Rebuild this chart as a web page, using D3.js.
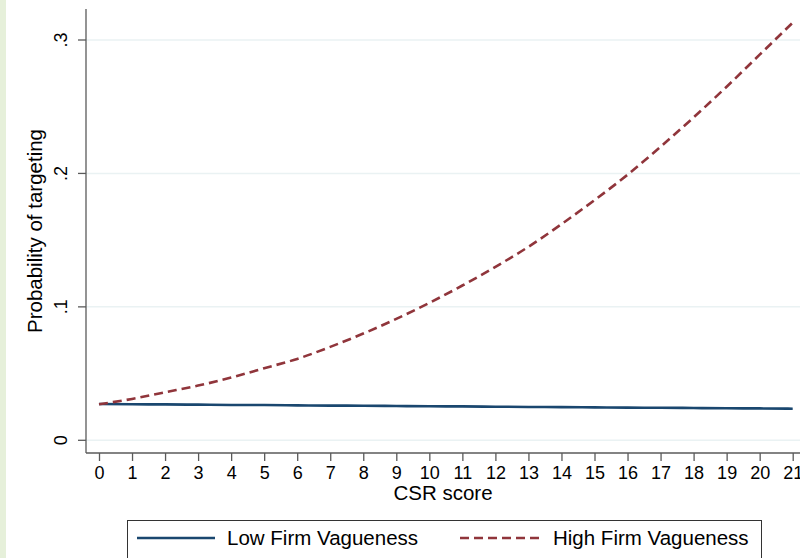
<!DOCTYPE html>
<html lang="en">
  <head>
    <meta charset="UTF-8" />
    <title>Probability of targeting by CSR score</title>
    <script src="https://cdn.jsdelivr.net/npm/d3@7"></script>
    <style>
      body { margin: 0; background: #fff; }
      svg { display: block; font-family: "Liberation Sans", Arial, sans-serif; }
    </style>
  </head>
  <body>
    <div id="chart"></div>
    <script>
      // data
      const csrScore = [0, 1, 2, 3, 4, 5, 6, 7, 8, 9, 10, 11, 12, 13, 14, 15, 16, 17, 18, 19, 20, 21];
      const lowVague = [0.0272, 0.0270, 0.0269, 0.0267, 0.0265, 0.0264, 0.0262, 0.0260, 0.0259, 0.0257, 0.0255,
        0.0254, 0.0252, 0.0250, 0.0249, 0.0247, 0.0245, 0.0244, 0.0242, 0.0240, 0.0239, 0.0237];
      const highVague = [0.027, 0.031, 0.036, 0.041, 0.047, 0.054, 0.061, 0.070, 0.080, 0.091, 0.103,
        0.116, 0.130, 0.145, 0.162, 0.180, 0.199, 0.220, 0.242, 0.265, 0.289, 0.313];
      const yTicks = [0, 0.1, 0.2, 0.3];
      const yTickLabels = ["0", ".1", ".2", ".3"];
      const seriesNames = ["Low Firm Vagueness", "High Firm Vagueness"];

      const width = 800;
      const height = 558;
      const plot = { left: 86, right: 800, top: 9, bottom: 453 };
      const axisColor = "#5a5a5a";
      const blue = "#1a476f";
      const red = "#90353b";
      const titleSize = 20.5;

      const svg = d3.select("#chart")
        .append("svg")
        .attr("width", width)
        .attr("height", height);

      // green strip at the left edge
      svg.append("rect")
        .attr("x", 0).attr("y", 0)
        .attr("width", 6).attr("height", height)
        .attr("fill", "#e6f0da");

      const x = d3.scaleLinear().domain([0, 21]).range([99, 792.7]);
      const y = d3.scaleLinear().domain([0, 0.3]).range([440.3, 40]);

      // grid lines
      svg.append("g")
        .selectAll("line")
        .data(yTicks)
        .join("line")
        .attr("x1", plot.left).attr("x2", plot.right)
        .attr("y1", d => y(d)).attr("y2", d => y(d))
        .attr("stroke", "#eaf2f3")
        .attr("stroke-width", 1.5);

      // x axis
      const xAxis = svg.append("g")
        .attr("transform", `translate(0,${plot.bottom})`)
        .call(d3.axisBottom(x).tickValues(csrScore).tickFormat(d3.format("d")).tickSize(8).tickPadding(5).tickSizeOuter(0));
      xAxis.select(".domain").attr("d", `M${plot.left},0H${plot.right}`);
      xAxis.selectAll("path, line").attr("stroke", axisColor).attr("stroke-width", 1.3);
      xAxis.selectAll("text").attr("font-size", 18).attr("fill", "#000").attr("font-family", null);

      // y axis, labels turned like the original
      const yAxis = svg.append("g")
        .attr("transform", `translate(${plot.left},0)`)
        .call(d3.axisLeft(y).tickValues(yTicks).tickFormat((d, i) => yTickLabels[i]).tickSize(8).tickSizeOuter(0));
      yAxis.select(".domain").attr("d", `M0,${plot.top}V${plot.bottom}`);
      yAxis.selectAll("path, line").attr("stroke", axisColor).attr("stroke-width", 1.3);
      yAxis.selectAll("text")
        .attr("font-size", 18).attr("fill", "#000").attr("font-family", null)
        .attr("x", null).attr("dy", null)
        .attr("text-anchor", "middle")
        .attr("transform", d => `translate(-19,${y(d)}) rotate(-90)`)
        .attr("y", 0);
      yAxis.selectAll(".tick").attr("transform", null);
      yAxis.selectAll(".tick line").attr("transform", d => `translate(0,${y(d)})`);

      // axis titles
      svg.append("text")
        .attr("x", (plot.left + plot.right) / 2)
        .attr("y", 500)
        .attr("text-anchor", "middle")
        .attr("font-size", titleSize)
        .text("CSR score");

      svg.append("text")
        .attr("transform", `translate(42,${(plot.top + plot.bottom) / 2}) rotate(-90)`)
        .attr("text-anchor", "middle")
        .attr("font-size", titleSize)
        .text("Probability of targeting");

      // lines
      const line = d3.line()
        .x((d, i) => x(csrScore[i]))
        .y(d => y(d))
        .curve(d3.curveMonotoneX);

      svg.append("path")
        .datum(lowVague)
        .attr("d", line)
        .attr("fill", "none")
        .attr("stroke", blue)
        .attr("stroke-width", 2.6);

      svg.append("path")
        .datum(highVague)
        .attr("d", line)
        .attr("fill", "none")
        .attr("stroke", red)
        .attr("stroke-width", 2.6)
        .attr("stroke-dasharray", "9,5");

      // legend
      const legend = svg.append("g");
      legend.append("rect")
        .attr("x", 127.5).attr("y", 520.5)
        .attr("width", 634).attr("height", 50)
        .attr("fill", "#fff")
        .attr("stroke", "#333")
        .attr("stroke-width", 1);

      const legendItems = [
        { name: seriesNames[0], color: blue, dash: null, x1: 137, x2: 215, tx: 227 },
        { name: seriesNames[1], color: red, dash: "9,5", x1: 460, x2: 541, tx: 553 }
      ];
      legendItems.forEach(item => {
        legend.append("line")
          .attr("x1", item.x1).attr("x2", item.x2)
          .attr("y1", 538).attr("y2", 538)
          .attr("stroke", item.color)
          .attr("stroke-width", 2.6)
          .attr("stroke-dasharray", item.dash);
        legend.append("text")
          .attr("x", item.tx).attr("y", 545)
          .attr("font-size", titleSize)
          .text(item.name);
      });
    </script>
  </body>
</html>
